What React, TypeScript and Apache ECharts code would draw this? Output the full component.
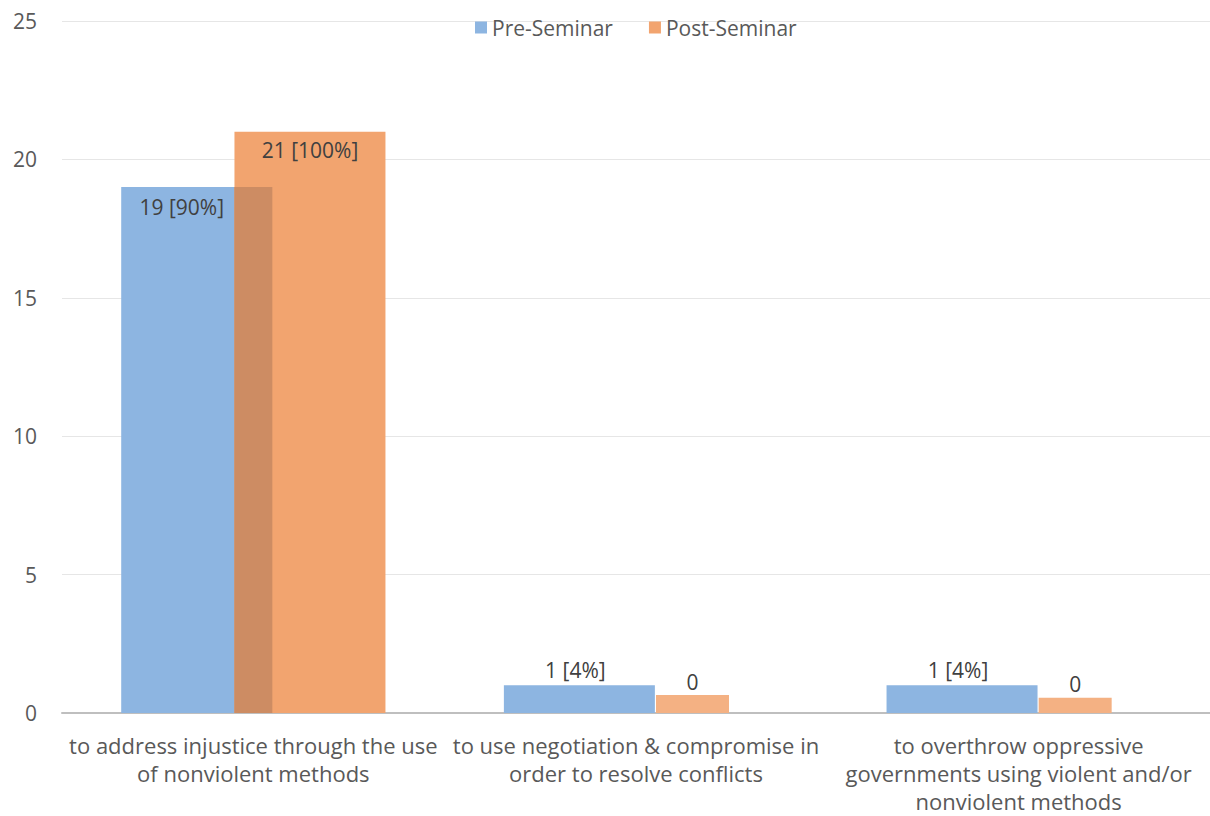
import React, { useEffect, useRef } from "react";
import * as echarts from "echarts";

const categories = [
  "to address injustice through the use\nof nonviolent methods",
  "to use negotiation & compromise in\norder to resolve conflicts",
  "to overthrow oppressive\ngovernments using violent and/or\nnonviolent methods",
];
const preSeminar = [19, 1, 1];
const preLabels = ["19 [90%]", "1 [4%]", "1 [4%]"];
// Post-Seminar bar heights as drawn (first group overlaps Pre; the zero groups are drawn apart)
const postSeminarMain: (number | string)[] = [21, "-", "-"];
const postSeminarSmall: (number | string)[] = ["-", 0.65, 0.55];
const postLabels = ["21 [100%]", "0", "0"];
const yTicks = { min: 0, max: 25, interval: 5 };

const BLUE = "#8DB5E1";
const ORANGE = "#F2A46F";
const ORANGE_LIGHT = "#F4B183";
const OVERLAP = "#CD8C63";
const FONT = "Open Sans";

export default function App() {
  const ref = useRef<HTMLDivElement>(null);
  useEffect(() => {
    if (!ref.current) return;
    const chart = echarts.init(ref.current, undefined, { renderer: "svg" });
    const overlap = preSeminar.map((v, i) =>
      typeof postSeminarMain[i] === "number" ? Math.min(v, postSeminarMain[i] as number) : "-"
    );
    const hiddenAxis = () => ({
      type: "category" as const,
      data: categories,
      show: false,
      gridIndex: 0,
    });
    chart.setOption({
      animation: false,
      backgroundColor: "#ffffff",
      textStyle: { fontFamily: FONT },
      legend: {
        data: ["Pre-Seminar", "Post-Seminar"],
        left: 470,
        top: 12,
        itemWidth: 12,
        itemHeight: 12,
        itemGap: 36,
        icon: "rect",
        textStyle: { fontFamily: FONT, fontSize: 21, color: "#595959" },
      },
      grid: { left: 62, right: 0, top: 21, bottom: 103, containLabel: false },
      xAxis: [
        {
          type: "category",
          data: categories,
          axisLine: { show: true, lineStyle: { color: "#BFBFBF", width: 2 } },
          axisTick: { show: false },
          axisLabel: {
            color: "#595959",
            fontFamily: FONT,
            fontSize: 22,
            lineHeight: 28,
            margin: 18,
            interval: 0,
            align: "center",
          },
        },
        hiddenAxis(),
        hiddenAxis(),
      ],
      yAxis: {
        type: "value",
        min: yTicks.min,
        max: yTicks.max,
        interval: yTicks.interval,
        axisLine: { show: false },
        axisTick: { show: false },
        axisLabel: { color: "#595959", fontFamily: FONT, fontSize: 21, margin: 25 },
        splitLine: { lineStyle: { color: "#E6E6E6", width: 1 } },
      },
      series: [
        {
          name: "Pre-Seminar",
          type: "bar",
          xAxisIndex: 0,
          data: preSeminar.map((v) =>
            v >= 5
              ? { value: v, label: { position: "insideTop", distance: 9, offset: [-15, 0] } }
              : { value: v, label: { position: "top", distance: 5, offset: [-4, 0] } }
          ),
          barWidth: 151,
          barGap: "-25%",
          itemStyle: { color: BLUE },
          label: {
            show: true,
            fontFamily: FONT,
            fontSize: 21,
            color: "#404040",
            formatter: (p: any) => preLabels[p.dataIndex],
          },
        },
        {
          name: "Post-Seminar",
          type: "bar",
          xAxisIndex: 0,
          data: postSeminarMain,
          barWidth: 151,
          barGap: "-25%",
          itemStyle: { color: ORANGE },
          label: {
            show: true,
            position: "insideTop",
            distance: 8,
            fontFamily: FONT,
            fontSize: 21,
            color: "#404040",
            formatter: (p: any) => postLabels[p.dataIndex],
          },
        },
        {
          name: "_placeholder",
          type: "bar",
          xAxisIndex: 1,
          data: ["-", "-", "-"],
          barWidth: 113,
          barGap: "0%",
          silent: true,
          itemStyle: { color: "transparent" },
        },
        {
          name: "Post-Seminar",
          type: "bar",
          xAxisIndex: 1,
          data: postSeminarSmall,
          barWidth: 73,
          barGap: "0%",
          itemStyle: { color: ORANGE_LIGHT },
          label: {
            show: true,
            position: "top",
            distance: 3,
            fontFamily: FONT,
            fontSize: 21,
            color: "#404040",
            formatter: (p: any) => postLabels[p.dataIndex],
          },
        },
        {
          name: "_overlap",
          type: "bar",
          xAxisIndex: 2,
          data: overlap,
          barWidth: 38,
          silent: true,
          itemStyle: { color: OVERLAP },
        },
      ],
    });
    return () => chart.dispose();
  }, []);
  return (
    <div
      ref={ref}
      style={{ position: "fixed", left: 0, top: 0, width: 1210, height: 816 }}
    />
  );
}
